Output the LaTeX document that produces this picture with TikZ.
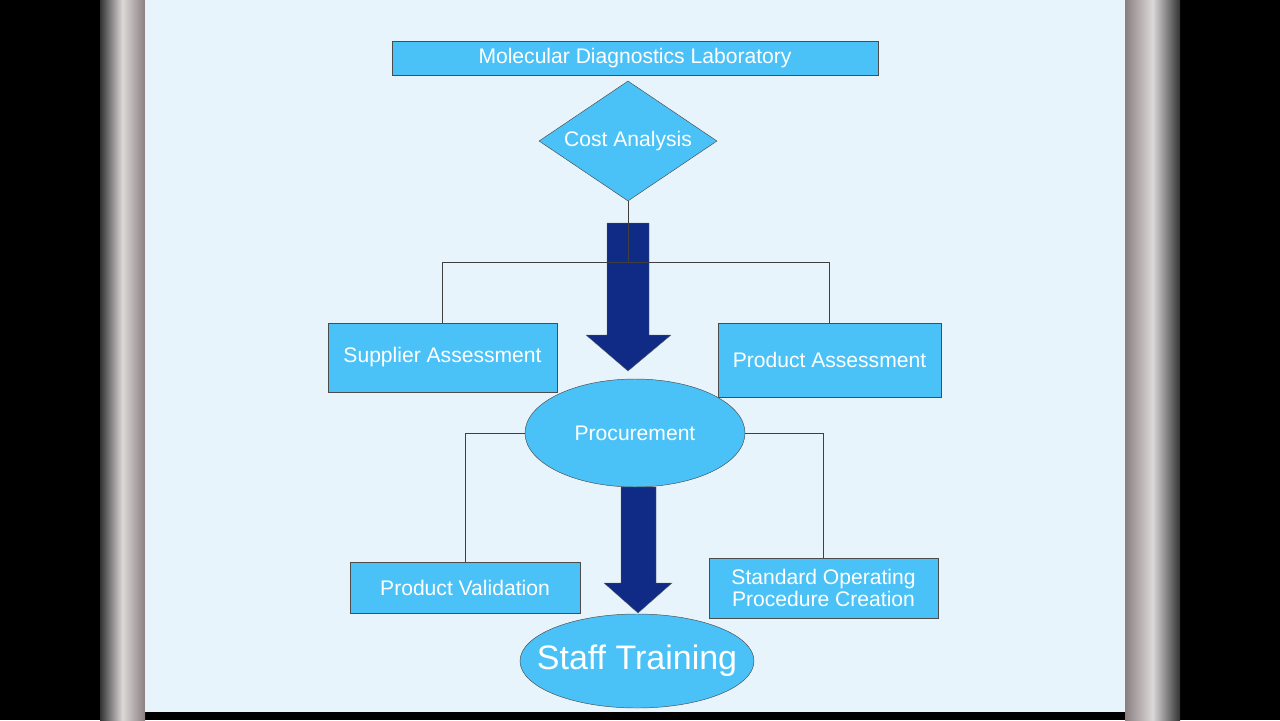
\documentclass[tikz,border=0pt]{standalone}
\usepackage{fontspec}
\setmainfont{Liberation Sans}
\usetikzlibrary{shapes.geometric}
\definecolor{boxfill}{HTML}{4BC2F7}
\definecolor{panel}{HTML}{E8F4FC}
\definecolor{darkarrow}{HTML}{0F2B86}
\definecolor{framec}{HTML}{8A7F80}
\begin{document}
\begin{tikzpicture}[x=0.03cm,y=-0.03cm]
        \tikzset{block/.style={draw=black!70, fill=boxfill, text=white, rectangle, align=center, inner sep=0pt,
                 font=\fontsize{18}{19}\selectfont},
        eblock/.style={block, ellipse},
        link/.style={draw=black!75, line width=0.4pt},
        bigarrow/.style={fill=darkarrow, draw=black!60, line width=0.3pt}
        }
%% background and frame
        \useasboundingbox (0,0) rectangle (1280,720);
        \fill[black] (0,0) rectangle (1280,720);
        \shade[left color=black!80, right color=framec, middle color=white!70!framec] (100,0) rectangle (145,720);
        \shade[left color=framec, right color=black!80, middle color=white!70!framec] (1125,0) rectangle (1180,720);
        \fill[panel] (145,0) rectangle (1125,712);

%% nodes
        \node [block, minimum width=14.58cm, minimum height=1.02cm] (lab) at (635,58) {Molecular Diagnostics Laboratory};
        \node [block, diamond, aspect=1.48, minimum width=5.34cm, minimum height=3.6cm] (cost) at (628,141) {Cost Analysis};
        \node [block, minimum width=6.87cm, minimum height=2.07cm] (supp) at (442.5,357.5) {Supplier Assessment};
        \node [block, minimum width=6.69cm, minimum height=2.22cm] (prod) at (829.5,360) {Product Assessment};
        \node [eblock, minimum width=6.6cm, minimum height=3.24cm] (proc) at (635,433) {Procurement};
        \node [block, minimum width=6.9cm, minimum height=1.53cm] (valid) at (465,587.5) {Product Validation};
        \node [block, minimum width=6.87cm, minimum height=1.8cm] (sop) at (823.5,588) {Standard Operating\\Procedure Creation};
        \node [eblock, inner xsep=-16pt, minimum width=7.02cm, minimum height=2.82cm, font=\fontsize{29}{31}\selectfont] (staff) at (637,661) {Staff Training};
        \coordinate (split) at (628,262);

%% arrows
        \path[bigarrow] (607,223) -- (649,223) -- (649,335) -- (671,335) -- (628,371) -- (586,335) -- (607,335) -- cycle;
        \path[bigarrow] (621,487) -- (656,487) -- (656,583) -- (672,583) -- (638,613) -- (604,583) -- (621,583) -- cycle;

%% paths
        \path[link] (cost.south) -- (split)
                    (split) -| (supp.north)
                    (split) -| (prod.north)
                    (proc.west) -| (valid.north)
                    (proc.east) -| (sop.north);
\end{tikzpicture}
\end{document}
